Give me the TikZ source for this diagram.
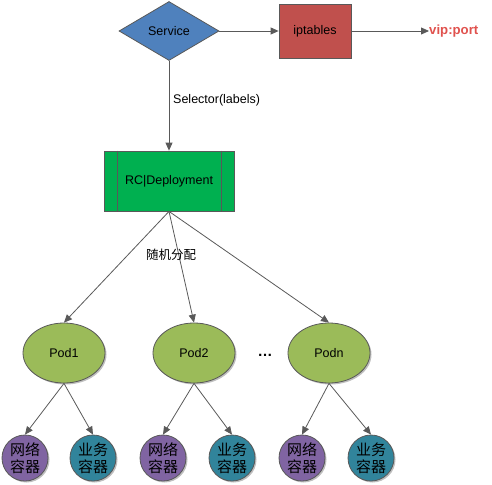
\documentclass[tikz,border=0pt]{standalone}
\usepackage{fontspec}
\setmainfont{Liberation Sans}
\newfontfamily\cjk{Noto Sans CJK SC}
\usetikzlibrary{shapes.geometric,arrows.meta,shadows}

\definecolor{svcblue}{HTML}{4F81BD}
\definecolor{iptred}{HTML}{C0504D}
\definecolor{rcgreen}{HTML}{00B050}
\definecolor{podgreen}{HTML}{9BBB59}
\definecolor{netpurple}{HTML}{8064A2}
\definecolor{appteal}{HTML}{31849B}
\definecolor{edgegray}{HTML}{595959}
\definecolor{vipred}{HTML}{E0524E}

\tikzset{
  basefont/.style={font=\fontsize{12.5}{14}\selectfont},
  outline/.style={draw=edgegray, line width=0.8pt},
  link/.style={draw=edgegray, line width=0.8pt, -{Triangle[width=7pt,length=8pt]}},
  softshadow/.style={drop shadow={shadow xshift=1.5pt, shadow yshift=-1.5pt, opacity=0.25, fill=black}},
  svcnode/.style={diamond, outline, fill=svcblue, basefont, inner sep=0pt,
    minimum width=100pt, minimum height=59pt},
  iptnode/.style={rectangle, outline, fill=iptred, basefont,
    minimum width=72pt, minimum height=54pt},
  rcnode/.style={rectangle, outline, fill=rcgreen, basefont,
    minimum width=130pt, minimum height=60pt},
  podnode/.style={ellipse, outline, fill=podgreen, basefont, softshadow,
    minimum width=82pt, minimum height=60pt},
  ctrnode/.style={circle, outline, softshadow, inner sep=0pt, minimum size=46pt,
    align=center, font=\cjk\fontsize{15}{17}\selectfont},
  netnode/.style={ctrnode, fill=netpurple},
  appnode/.style={ctrnode, fill=appteal},
}

\begin{document}
\begin{tikzpicture}[x=1pt, y=-1pt]
\useasboundingbox (0,0) rectangle (492,484);

% service entry and forwarding
\node[svcnode] (svc) at (169,31) {Service};
\node[iptnode] (ipt) at (315,31) {iptables};
\node[text=vipred, font=\bfseries\fontsize{13.2}{15}\selectfont, anchor=west, inner sep=0pt] (vip) at (429,31) {vip:port};

% controller
\node[rcnode] (rc) at (169,181) {RC|Deployment};
\draw[outline] ([xshift=14pt]rc.north west) -- ([xshift=14pt]rc.south west);
\draw[outline] ([xshift=-13pt]rc.north east) -- ([xshift=-13pt]rc.south east);

% pods
\node[podnode] (pod1) at (64,353) {Pod1};
\node[podnode] (pod2) at (194,353) {Pod2};
\node[podnode] (podn) at (329,353) {Podn};
\node[font=\bfseries\fontsize{15}{17}\selectfont] (dots) at (265,355) {\dots};

% containers
\node[netnode] (net1) at (25,458) {网络\\容器};
\node[appnode] (app1) at (93,458) {业务\\容器};
\node[netnode] (net2) at (163,458) {网络\\容器};
\node[appnode] (app2) at (232,458) {业务\\容器};
\node[netnode] (netn) at (302,458) {网络\\容器};
\node[appnode] (appn) at (371,458) {业务\\容器};

% connectors
\draw[link] (svc.east) -- (ipt.west);
\draw[link] (ipt.east) -- (vip.west);
\draw[link] (svc.south) -- (rc.north);
\node[basefont, anchor=west, inner sep=0pt] (sel) at (173,100) {Selector(labels)};

\draw[link] (rc.south) -- (pod1.north);
\draw[link] (rc.south) -- (pod2.north);
\draw[link] (rc.south) -- (podn.north);
\node[font=\cjk\fontsize{12.5}{14}\selectfont] (rand) at (171,255) {随机分配};

\foreach \p/\a/\b in {pod1/net1/app1, pod2/net2/app2, podn/netn/appn} {
  \draw[link] (\p.south) -- (\a.north);
  \draw[link] (\p.south) -- (\b.north);
}
\end{tikzpicture}
\end{document}
